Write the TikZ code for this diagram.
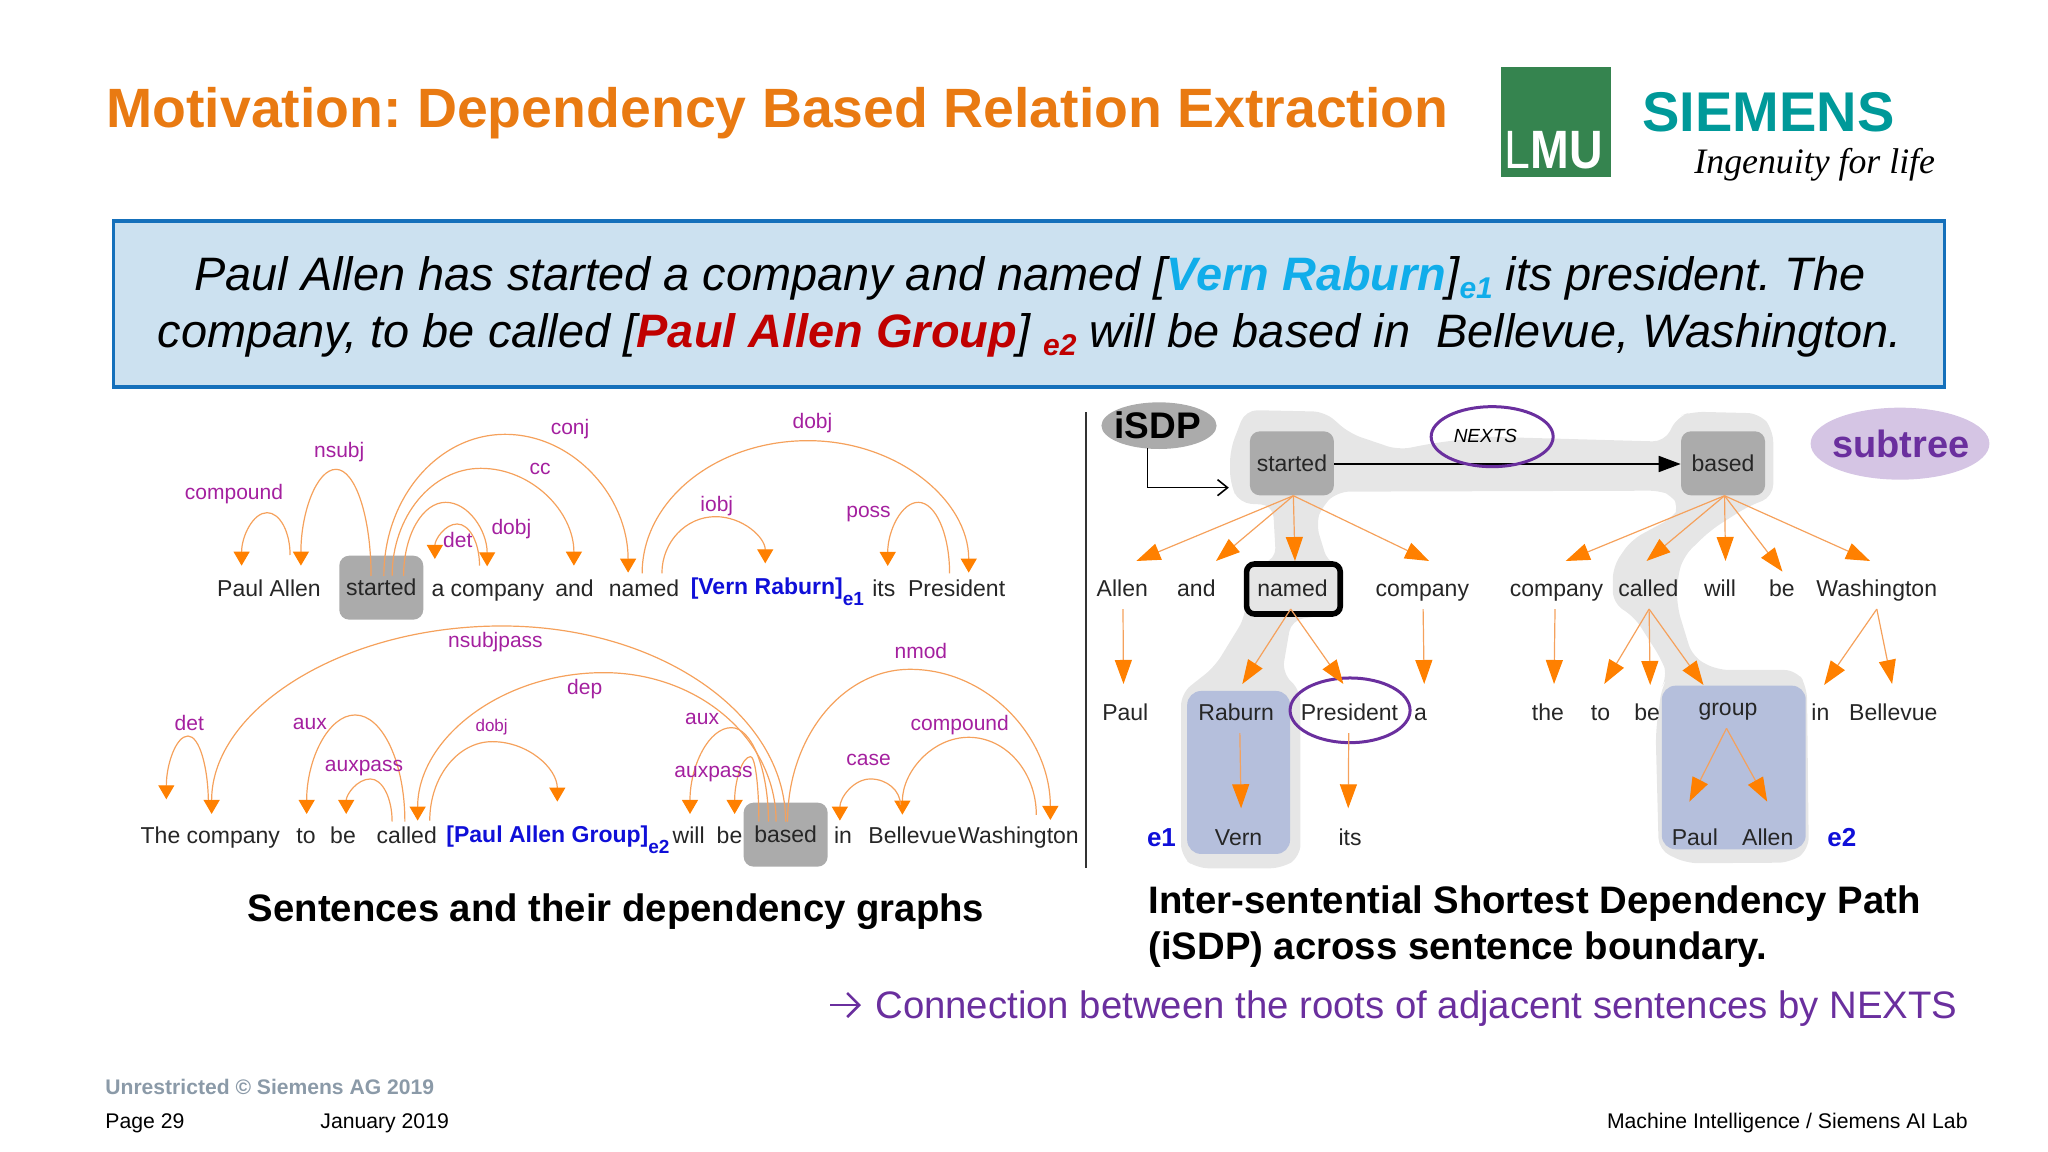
\documentclass[tikz,border=0pt]{standalone}
\usepackage{fontspec}
\setmainfont{Liberation Sans}
\newfontfamily\logohand{Liberation Serif}
\usetikzlibrary{arrows.meta, shapes.geometric}

\definecolor{titleorange}{HTML}{E97A12}
\definecolor{boxblue}{HTML}{CCE1F0}
\definecolor{boxline}{HTML}{1570BB}
\definecolor{skyname}{HTML}{10ADEA}
\definecolor{redname}{HTML}{C00000}
\definecolor{arclabel}{HTML}{A4209F}
\definecolor{arcline}{HTML}{F5A15C}
\definecolor{tiporange}{HTML}{FF8000}
\definecolor{rootgray}{HTML}{ABABAB}
\definecolor{halogray}{HTML}{E6E6E6}
\definecolor{subblue}{HTML}{B5BFDC}
\definecolor{ringpurple}{HTML}{6A2F9E}
\definecolor{entblue}{HTML}{0F0FD8}
\definecolor{lmugreen}{HTML}{35844F}
\definecolor{siemensteal}{HTML}{009999}
\definecolor{footgray}{HTML}{8B9AA8}

\tikzset{
  word/.style={anchor=base, inner sep=0pt, text height=8pt, text depth=6pt, text=black!85,
    font=\fontsize{11.5}{13}\selectfont},
  entity/.style={word, text=entblue, font=\fontsize{11.5}{13}\selectfont\bfseries},
  arclab/.style={inner sep=0pt, text=arclabel, font=\fontsize{10.5}{12}\selectfont},
  rootbox/.style={fill=rootgray, rounded corners=5pt, minimum width=42pt, minimum height=32pt,
    inner sep=0pt, text=black!85, font=\fontsize{11.5}{13}\selectfont},
  deparc/.style={draw=arcline, line width=0.6pt, -{Triangle[color=tiporange, length=7pt, width=8pt]}},
  deptree/.style={draw=arcline, line width=0.6pt, -{Triangle[color=tiporange, length=12pt, width=8.5pt]}},
  subbox/.style={fill=subblue, rounded corners=7pt},
  slidetext/.style={anchor=base, inner sep=0pt},
}

\begin{document}
\frenchspacing
\begin{tikzpicture}[x=0.5pt, y=-0.5pt]
\useasboundingbox (0,0) rectangle (2048,1151);

% title and logos
\node[slidetext, anchor=base west, text=titleorange, font=\fontsize{27.7}{30}\selectfont\bfseries] (title) at (106,127)
  {Motivation: Dependency Based Relation Extraction};
\fill[lmugreen] (1501,67) rectangle (1611,177);
\node[slidetext, anchor=base east, text=white] (lmu) at (1603,168)
  {\scalebox{0.86}[1]{\fontsize{27}{28}\selectfont L\bfseries MU}};
\node[slidetext, anchor=base west, text=siemensteal, font=\fontsize{28}{30}\selectfont\bfseries] (siemens) at (1642,131) {SIEMENS};
\node[slidetext, anchor=base west, font=\logohand\itshape\fontsize{17.9}{20}\selectfont] (claim) at (1694,173) {Ingenuity for life};

% example sentences
\node[draw=boxline, fill=boxblue, line width=1.6pt, minimum width=915.5pt, minimum height=83pt, inner sep=0pt] (sentbox) at (1029,304) {};
\node[slidetext, font=\fontsize{23.45}{26}\selectfont\itshape] (line1) at (1030,290)
  {Paul Allen has started a company and named [{\bfseries\color{skyname}Vern Raburn}]\raisebox{-4pt}{\bfseries\fontsize{15}{16}\selectfont\color{skyname}e1} its president. The};
\node[slidetext, font=\fontsize{23.45}{26}\selectfont\itshape] (line2) at (1030,347)
  {company, to be called [{\bfseries\color{redname}Paul Allen Group}] \raisebox{-4pt}{\bfseries\fontsize{15}{16}\selectfont\color{redname}e2} will be based in\ \ Bellevue, Washington.};

% left: dependency graphs
\begin{scope}[shift={(100,400)}, xscale=0.6378, yscale=0.3333]
\node[rootbox] (started) at (441,563) {started};
\node[rootbox] (based) at (1075,1304) {based};

\node[word] (paulallen) at (265,590) {Paul Allen};
\node[word] (company) at (608,590) {a company};
\node[word] (and) at (744,590) {and};
\node[word] (named) at (853,590) {named};
\node[entity] (vern) at (1062,585) {[Vern Raburn]\raisebox{-5.5pt}{\fontsize{9.5}{10}\selectfont e1}};
\node[word] (its) at (1229,590) {its};
\node[word] (president) at (1343,590) {President};

\node[word] (thecompany) at (173,1332) {The company};
\node[word] (to) at (323,1332) {to};
\node[word] (be) at (381,1332) {be};
\node[word] (called) at (481,1332) {called};
\node[entity] (group) at (718,1329) {[Paul Allen Group]\raisebox{-5.5pt}{\fontsize{9.5}{10}\selectfont e2}};
\node[word] (will) at (923,1332) {will};
\node[word] (be2) at (987,1332) {be};
\node[word] (in) at (1165,1332) {in};
\node[word] (bellevue) at (1274,1332) {Bellevue};
\node[word] (washington) at (1440,1332) {Washington};

\foreach \xa/\ya/\xm/\ym/\xb/\yb [count=\i] in {
  298/465/262/338/222/497, 425/528/370/208/315/497, 445/528/635/103/828/518,
  458/528/597/205/743/497, 476/528/542/307/607/499, 595/497/560/372/525/477,
  850/520/1110/122/1362/518, 881/520/965/350/1043/490, 1332/520/1283/307/1235/498,
  170/1215/138/1008/104/1198, 1075/1265/630/678/175/1242, 478/1265/400/945/324/1242,
  458/1265/424/1137/386/1242, 1060/1265/790/818/498/1262, 517/1262/615/1025/717/1205,
  1048/1265/990/983/925/1242, 1033/1265/1020/1070/995/1242, 1078/1265/1270/808/1490/1260,
  1468/1245/1362/1012/1258/1244, 1255/1215/1208/1137/1160/1262}
{
  \pgfmathsetmacro{\ca}{\ya+0.5523*(\ym-\ya)}
  \pgfmathsetmacro{\cb}{\xm-0.5523*(\xm-\xa)}
  \pgfmathsetmacro{\cc}{\xm+0.5523*(\xb-\xm)}
  \pgfmathsetmacro{\cd}{\yb+0.5523*(\ym-\yb)}
  \coordinate (arc\i s) at (\xa,\ya);
  \coordinate (arc\i t) at (\xb,\yb);
  \draw[deparc] (arc\i s) .. controls (\xa,\ca) and (\cb,\ym) .. (\xm,\ym)
    .. controls (\cc,\ym) and (\xb,\cd) .. (arc\i t);
}

\foreach \xx/\yy/\lab [count=\i] in {
  210/283/compound, 375/155/nsubj, 737/88/conj, 690/208/cc, 645/388/dobj, 561/420/det,
  1117/68/dobj, 967/318/iobj, 1205/342/poss, 140/970/det, 329/973/aux, 414/1103/auxpass,
  620/725/nsubjpass, 760/868/dep, 944/958/aux, 962/1121/auxpass,
  1287/752/nmod, 1348/975/compound, 1205/1080/case}
  \node[arclab] (lab\i) at (\xx,\yy) {\lab};
\node[arclab, font=\fontsize{8.5}{10}\selectfont] (labdobj) at (614,981) {dobj};
\end{scope}

% divider
\coordinate (divtop) at (1086,412);
\coordinate (divbot) at (1086,868);
\draw[line width=0.9pt, black!80] (divtop) -- (divbot);

% right: shortest path
\begin{scope}[shift={(1080,400)}, xscale=0.6124, yscale=0.3333]
\fill[halogray, rounded corners=6pt] (270,30) -- (400,35) -- (440,100) -- (520,150) -- (575,130) -- (660,110)
  -- (760,115) -- (955,125) -- (975,50) -- (1000,35) -- (1110,40) -- (1132,90) -- (1132,290) -- (1090,320)
  -- (1030,390) -- (985,470) -- (975,540) -- (975,620) -- (1000,770) -- (1040,810) -- (1170,810) -- (1187,860)
  -- (1190,1350) -- (1160,1388) -- (990,1390) -- (945,1350) -- (940,1000) -- (950,860) -- (960,830) -- (950,780)
  -- (905,650) -- (870,610) -- (870,500) -- (900,420) -- (970,350) -- (980,320) -- (965,285) -- (950,272)
  -- (420,275) -- (395,320) -- (385,370) -- (405,490) -- (425,500) -- (425,640) -- (345,660) -- (330,820)
  -- (360,870) -- (360,1370) -- (330,1405) -- (190,1405) -- (165,1370) -- (165,880) -- (220,800) -- (270,650)
  -- (270,500) -- (320,480) -- (315,315) -- (260,310) -- (245,250) -- (245,150) -- cycle;
\fill[subbox] (175,873) rectangle (343,1362);
\fill[subbox] (950,857) rectangle (1185,1348);

\node[rootbox] (rstarted) at (346,190) {started};
\node[rootbox] (rbased) at (1050,190) {based};

\fill[rootgray] (129,77) ellipse (94 and 70);
\fill[ringpurple!28] (1339,131) ellipse (146 and 108);
\node[inner sep=0pt, font=\fontsize{18.5}{20}\selectfont\bfseries] (isdp) at (127,77) {iSDP};
\node[inner sep=0pt, text=ringpurple, font=\fontsize{19}{20}\selectfont\bfseries] (subtree) at (1340,131) {subtree};

\coordinate (isdptail) at (110,145);
\coordinate (isdphead) at (243,263);
\draw[line width=0.8pt, -{Straight Barb[length=5pt, width=8pt]}] (isdptail) |- (isdphead);
\draw[line width=0.9pt, -{Triangle[length=11pt, width=8pt]}] ([yshift=-1pt]rstarted.east) -- ([yshift=-1pt]rbased.west);
\node[ellipse, draw=ringpurple, line width=1.5pt, minimum width=61pt, minimum height=30pt, inner sep=0pt] (nexts) at (673,110) {};
\node[inner sep=0pt, font=\fontsize{9.5}{11}\selectfont\itshape] (nextslab) at (662,108) {NEXTS};

% tree words
\node[word] (rallen) at (69,590) {Allen};
\node[word] (rand) at (190,590) {and};
\node[word] (rnamed) at (347,590) {named};
\node[word] (rcompany) at (559,590) {company};
\node[word] (rcompanyb) at (778,590) {company};
\node[word] (rcalled) at (928,590) {called};
\node[word] (rwill) at (1045,590) {will};
\node[word] (rbe) at (1146,590) {be};
\node[word] (rwash) at (1301,590) {Washington};
\node[word] (rpaul) at (74,962) {Paul};
\node[word] (rraburn) at (255,962) {Raburn};
\node[word] (rpres) at (440,962) {President};
\node[word] (ra) at (556,962) {a};
\node[word] (rthe) at (764,962) {the};
\node[word] (rto) at (850,962) {to};
\node[word] (rbeb) at (926,962) {be};
\node[word] (rgroup) at (1058,948) {group};
\node[word] (rin) at (1209,962) {in};
\node[word] (rbell) at (1328,962) {Bellevue};
\node[word] (rvern) at (259,1336) {Vern};
\node[word] (rits) at (441,1336) {its};
\node[word] (rpaulb) at (1004,1336) {Paul};
\node[word] (rallenb) at (1123,1336) {Allen};
\node[word, text=entblue, font=\fontsize{13}{14}\selectfont\bfseries] (eone) at (133,1340) {e1};
\node[word, text=entblue, font=\fontsize{13}{14}\selectfont\bfseries] (etwo) at (1244,1340) {e2};

\draw[black, line width=2.8pt, rounded corners=4pt] (272,492) rectangle (425,642);
\draw[ringpurple, line width=1.5pt] (441,931) ellipse (98 and 97);

% tree edges
\foreach \src/\dx/\xx/\yy [count=\i] in {
  rstarted/1.2/92/483, rstarted/1.2/222/483, rstarted/1.2/351/483, rstarted/1.2/570/483,
  rbased/1.2/793/483, rbased/1.2/925/483, rbased/1.2/1054/483, rbased/1.2/1147/515, rbased/1.2/1290/483,
  rallen/0.6/71/852, rcompany/0.6/562/852, rcompanyb/-1.2/774/852,
  rnamed/-1.5/265/852, rnamed/-1.5/430/852, rcalled/0.6/856/852, rcalled/0.6/931/855, rcalled/0.6/1018/855,
  rwash/0/1215/855, rwash/0/1326/852, rraburn/3/263/1225, rpres/-0.6/438/1225,
  rgroup/-1.2/995/1205, rgroup/-1.2/1122/1205}
{
  \coordinate (tip\i) at (\xx,\yy);
  \draw[deptree] ([xshift=\dx pt]\src.south) -- (tip\i);
}
\end{scope}

% captions
\node[slidetext, anchor=base, font=\fontsize{19.15}{21}\selectfont\bfseries] (leftcap) at (616,921) {Sentences and their dependency graphs};
\node[slidetext, anchor=base west, font=\fontsize{19.15}{21}\selectfont\bfseries] (rightcapa) at (1148,913) {Inter-sentential Shortest Dependency Path};
\node[slidetext, anchor=base west, font=\fontsize{19.15}{21}\selectfont\bfseries] (rightcapb) at (1148,959) {(iSDP) across sentence boundary.};
\coordinate (notetail) at (830,1005);
\coordinate (notehead) at (861,1005);
\draw[ringpurple, line width=1.3pt, -{Straight Barb[length=6pt, width=12pt]}] (notetail) -- (notehead);
\node[slidetext, anchor=base west, text=ringpurple, font=\fontsize{19.16}{22}\selectfont] (nextsnote) at (875,1018)
  {Connection between the roots of adjacent sentences by NEXTS};

% footer
\node[slidetext, anchor=base west, text=footgray, font=\fontsize{10.55}{12}\selectfont\bfseries] (unres) at (105,1094) {Unrestricted © Siemens AG 2019};
\node[slidetext, anchor=base west, font=\fontsize{10.6}{12}\selectfont] (page) at (105,1128) {Page 29};
\node[slidetext, anchor=base west, font=\fontsize{10.6}{12}\selectfont] (date) at (320,1128) {January 2019};
\node[slidetext, anchor=base east, font=\fontsize{10.6}{12}\selectfont] (lab) at (1968,1128) {Machine Intelligence / Siemens AI Lab};
\end{tikzpicture}
\end{document}
